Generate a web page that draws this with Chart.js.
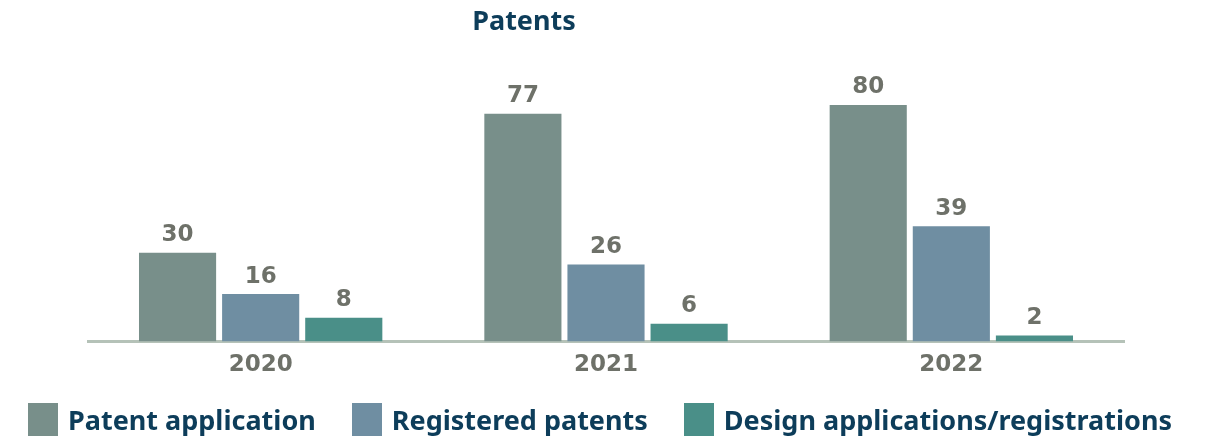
<!DOCTYPE html>
<html>
<head>
<meta charset="utf-8">
<script src="https://cdn.jsdelivr.net/npm/chart.js@4/dist/chart.umd.min.js"></script>
<style>
  html, body { margin: 0; padding: 0; background: #fff; }
  #wrap { position: relative; width: 1208px; height: 439px; }
  #legend {
    position: absolute; left: 28px; top: 403px; height: 33px;
    display: flex; align-items: center; gap: 36px;
    font: bold 27px "Noto Sans"; color: #0d3d5a; white-space: nowrap;
  }
  #legend .item { display: flex; align-items: center; gap: 10px; }
  #legend .box { display: inline-block; width: 30px; height: 33px; }
</style>
</head>
<body>
<div id="wrap">
  <canvas id="chartPatents"></canvas>
  <div id="legend"></div>
</div>
<script>
// data
const years = ["2020", "2021", "2022"];
const patentApplication = [30, 77, 80];
const registeredPatents = [16, 26, 39];
const designApplications = [8, 6, 2];

const navy = "#0d3d5a";
const grey = "#6e7169";

// value above every bar
const valueLabels = {
    id: "valueLabels",
    afterDatasetsDraw(chart) {
        const ctx = chart.ctx;
        ctx.save();
        ctx.font = "bold 23px 'DejaVu Sans'";
        ctx.fillStyle = grey;
        ctx.textAlign = "center";
        ctx.textBaseline = "bottom";
        chart.data.datasets.forEach((ds, i) => {
            chart.getDatasetMeta(i).data.forEach((bar, j) => {
                ctx.fillText(ds.data[j], bar.x, bar.y - 6);
            });
        });
        ctx.restore();
    }
};

// title text
const titleText = {
    id: "titleText",
    afterDraw(chart) {
        const ctx = chart.ctx;
        ctx.save();
        ctx.font = "bold 27px 'Noto Sans'";
        ctx.fillStyle = navy;
        ctx.textAlign = "center";
        ctx.textBaseline = "middle";
        ctx.fillText("Patents", 524, 22);
        ctx.restore();
    }
};

// empty side axes only reserve room left and right of the bars
const sideAxis = (pos, w) => ({
    position: pos,
    display: true,
    grid: { display: false },
    border: { display: false },
    ticks: { display: false },
    afterFit(scale) { scale.width = w; }
});

const chart = new Chart(document.getElementById("chartPatents"), {
    type: "bar",
    data: {
        labels: years,
        datasets: [
            { label: "Patent application", data: patentApplication, backgroundColor: "#788f8a" },
            { label: "Registered patents", data: registeredPatents, backgroundColor: "#6f8ea2" },
            { label: "Design applications/registrations", data: designApplications, backgroundColor: "#4a8f88" }
        ]
    },
    options: {
        responsive: true,
        maintainAspectRatio: false,
        animation: false,
        categoryPercentage: 0.722,
        barPercentage: 0.928,
        layout: { padding: { top: 105, left: 0, right: 0, bottom: 50 } },
        scales: {
            x: {
                grid: { display: false, drawTicks: false },
                border: { display: true, color: "#b5c2b8", width: 3 },
                ticks: {
                    color: grey,
                    padding: 10,
                    font: { family: "'DejaVu Sans'", weight: "bold", size: 23 }
                }
            },
            y: Object.assign(sideAxis("left", 88), { min: 0, max: 80 }),
            yRight: sideAxis("right", 84)
        },
        plugins: {
            legend: { display: false },
            tooltip: { enabled: false }
        }
    },
    plugins: [valueLabels, titleText]
});

// html legend from the datasets
const legendEl = document.getElementById("legend");
chart.data.datasets.forEach(ds => {
    const item = document.createElement("span");
    item.className = "item";
    const box = document.createElement("span");
    box.className = "box";
    box.style.background = ds.backgroundColor;
    item.appendChild(box);
    item.appendChild(document.createTextNode(ds.label));
    legendEl.appendChild(item);
});
</script>
</body>
</html>
